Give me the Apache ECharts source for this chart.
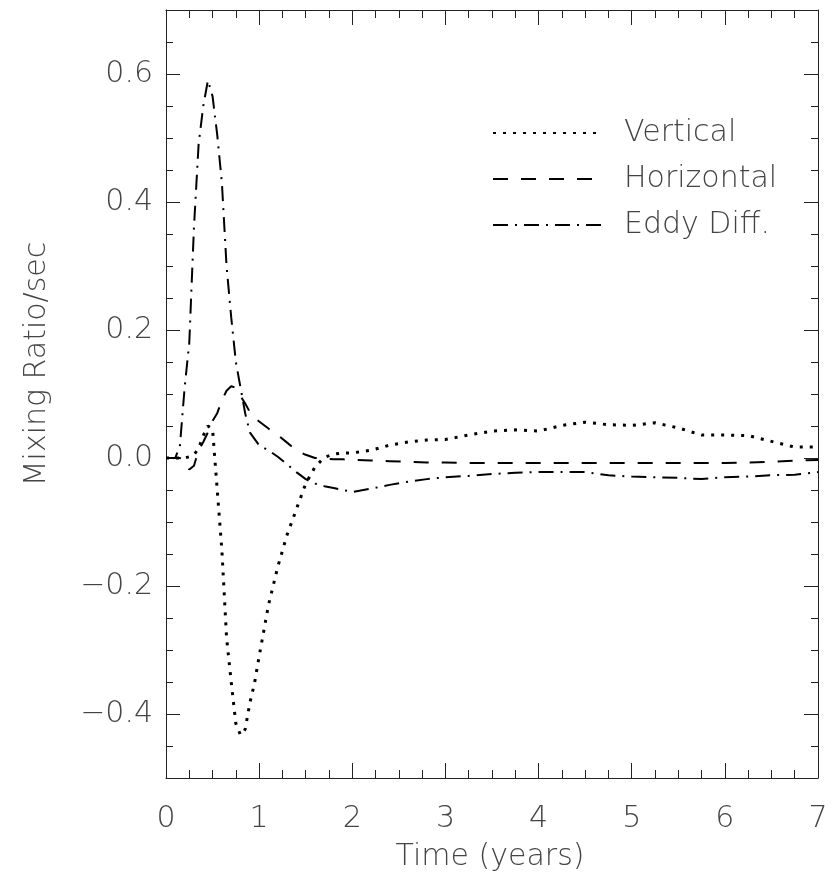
<!DOCTYPE html>
<html><head><meta charset="utf-8">
<script src="https://cdn.jsdelivr.net/npm/echarts@6/dist/echarts.min.js"></script>
<style>html,body{margin:0;padding:0;background:#fff}#c{width:833px;height:879px}</style>
</head><body><div id="c"></div>
<script>
// ---- data ----
const time = [0, 0.1, 0.15, 0.2, 0.25, 0.3, 0.35, 0.4, 0.45, 0.5, 0.55, 0.6, 0.65, 0.7, 0.75, 0.8, 0.85, 0.9, 0.95, 1.0,
  1.1, 1.2, 1.3, 1.4, 1.5, 1.6, 1.7, 1.8, 1.9, 2.0, 2.2, 2.4, 2.6, 2.8, 3.0, 3.25, 3.5, 3.75, 4.0, 4.25, 4.5, 4.75,
  5.0, 5.25, 5.5, 5.75, 6.0, 6.25, 6.5, 6.75, 7.0];
const vertical = [0, 0, 0, 0, 0.002, 0.005, 0.015, 0.035, 0.05, 0.045, -0.05, -0.144, -0.28, -0.35, -0.415, -0.433, -0.424, -0.383, -0.352, -0.31,
  -0.23, -0.17, -0.12, -0.08, -0.04, -0.014, 0.001, 0.006, 0.008, 0.008, 0.012, 0.02, 0.025, 0.028, 0.029, 0.036, 0.042, 0.044, 0.042, 0.051, 0.056, 0.052,
  0.051, 0.055, 0.047, 0.036, 0.036, 0.035, 0.026, 0.017, 0.017];
const horizontal = [0, 0, 0, -0.005, -0.018, -0.012, 0.012, 0.025, 0.04, 0.058, 0.07, 0.09, 0.105, 0.112, 0.11, 0.097, 0.085, 0.072, 0.063, 0.057,
  0.046, 0.036, 0.024, 0.012, 0.005, 0.0, -0.001, -0.002, -0.002, -0.003, -0.004, -0.005, -0.006, -0.007, -0.007, -0.008, -0.008, -0.008, -0.008, -0.008, -0.008, -0.008,
  -0.008, -0.008, -0.008, -0.008, -0.008, -0.007, -0.006, -0.004, -0.003];
const eddy = [0, 0, 0.02, 0.11, 0.18, 0.36, 0.49, 0.55, 0.59, 0.565, 0.505, 0.43, 0.30, 0.22, 0.15, 0.11, 0.07, 0.04, 0.03, 0.02,
  0.012, 0.002, -0.01, -0.022, -0.033, -0.04, -0.044, -0.047, -0.05, -0.053, -0.048, -0.042, -0.037, -0.033, -0.030, -0.028, -0.025, -0.023, -0.022, -0.022, -0.022, -0.027,
  -0.029, -0.030, -0.031, -0.033, -0.030, -0.029, -0.027, -0.026, -0.022];
const seriesNames = ['Vertical', 'Horizontal', 'Eddy Diff.'];
const xTickValues = [0, 1, 2, 3, 4, 5, 6, 7];
const yTickValues = [-0.4, -0.2, 0.0, 0.2, 0.4, 0.6];
const xTitle = 'Time (years)';
const yTitle = 'Mixing Ratio/sec';

// ---- chart ----
const FONT = 'DejaVu Sans';
const ink = '#222';
const txt = '#444';
const zip = (ys) => time.map((t, i) => [t, ys[i]]);
const fmtY = (v) => {
  const s = Math.abs(v) < 1e-9 ? '0.0' : Math.abs(v).toFixed(1);
  return (v < -1e-9 ? '\u2212' : '') + s;
};
const labelStyle = { fontSize: 30, color: txt, fontFamily: FONT, fontWeight: 200 };

function xAx(grid, pos, major) {
  return {
    type: 'value', gridIndex: grid, position: pos, min: 0, max: 7,
    interval: major ? 1 : 0.25,
    axisLine: { show: major, onZero: false, lineStyle: { color: ink, width: 1 } },
    axisTick: { show: true, inside: true, length: major ? 15 : 8, lineStyle: { color: ink, width: 1 } },
    axisLabel: (major && pos === 'bottom') ? Object.assign({ show: true, margin: 26, formatter: (v) => String(v) }, labelStyle) : { show: false },
    splitLine: { show: false }
  };
}
function yAx(grid, pos, major) {
  const a = {
    type: 'value', gridIndex: grid, position: pos, min: -0.5, max: 0.7,
    interval: major ? 0.1 : 0.05,
    axisLine: { show: major, onZero: false, lineStyle: { color: ink, width: 1 } },
    axisTick: { show: true, inside: true, length: major ? 14 : 7, lineStyle: { color: ink, width: 1 } },
    axisLabel: { show: false },
    splitLine: { show: false },
    name: (major && pos === 'left') ? yTitle : '',
    nameLocation: 'middle', nameGap: 114, nameRotate: 90,
    nameTextStyle: Object.assign({ padding: [0, 0, 0, 60] }, labelStyle)
  };
  if (major) {
    a.axisTick.customValues = yTickValues;
    if (pos === 'left') {
      a.axisLabel = Object.assign({ show: true, margin: 13, customValues: yTickValues, formatter: fmtY }, labelStyle);
    }
  }
  return a;
}

const chart = echarts.init(document.getElementById('c'), null, { renderer: 'canvas' });
const gridRect = { left: 166, right: 15, top: 10, bottom: 101, containLabel: false, outerBoundsMode: 'none' };
chart.setOption({
  animation: false,
  backgroundColor: '#fff',
  grid: [Object.assign({}, gridRect), Object.assign({}, gridRect)],
  xAxis: [xAx(0, 'bottom', true), xAx(0, 'top', true), xAx(1, 'bottom', false), xAx(1, 'top', false)],
  yAxis: [yAx(0, 'left', true), yAx(0, 'right', true), yAx(1, 'left', false), yAx(1, 'right', false)],
  graphic: [{
    type: 'text', x: 490, y: 857, silent: true,
    style: { text: xTitle, fill: txt, font: '200 30px "DejaVu Sans"', textAlign: 'center', textVerticalAlign: 'middle' }
  }],
  legend: {
    data: seriesNames, orient: 'vertical', left: 492, top: 118, padding: 0,
    itemWidth: 108, itemHeight: 14, itemGap: 16,
    itemStyle: { opacity: 0 },
    textStyle: Object.assign({ padding: [0, 0, 0, 18] }, labelStyle),
    inactiveColor: '#ccc'
  },
  series: [
    { name: seriesNames[0], type: 'line', xAxisIndex: 0, yAxisIndex: 0, data: zip(vertical), symbol: 'none', showSymbol: false,
      color: '#000', lineStyle: { color: '#000', width: 3, type: [3, 7], cap: 'butt' } },
    { name: seriesNames[1], type: 'line', xAxisIndex: 0, yAxisIndex: 0, data: zip(horizontal), symbol: 'none', showSymbol: false,
      color: '#000', lineStyle: { color: '#000', width: 2, type: [15, 13], cap: 'butt' } },
    { name: seriesNames[2], type: 'line', xAxisIndex: 0, yAxisIndex: 0, data: zip(eddy), symbol: 'none', showSymbol: false,
      color: '#000', lineStyle: { color: '#000', width: 2, type: [15, 7, 2, 7], cap: 'butt' } }
  ]
});
</script></body></html>
